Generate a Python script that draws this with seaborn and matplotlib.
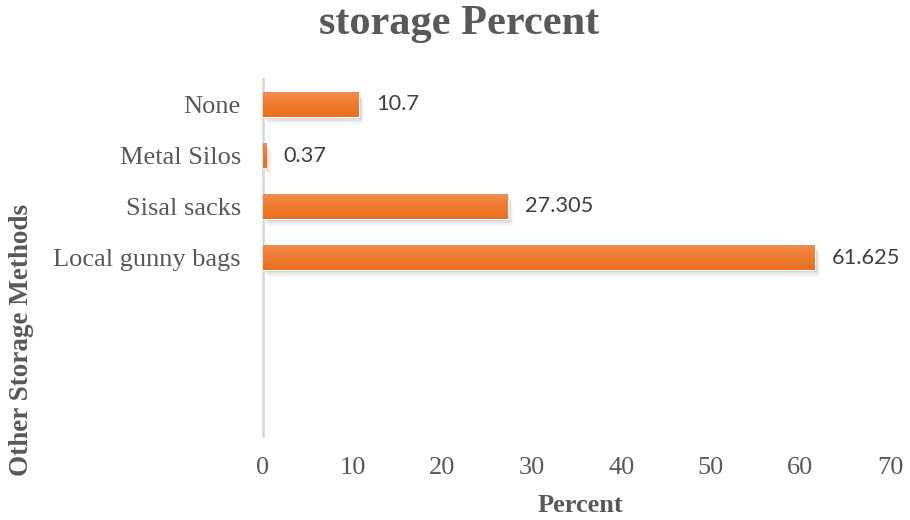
import numpy as np
import pandas as pd
import matplotlib
matplotlib.use("Agg")
import matplotlib.pyplot as plt
import seaborn as sns
from matplotlib.colors import LinearSegmentedColormap

# Data
methods = ["None", "Metal Silos", "Sisal sacks", "Local gunny bags"]
percent = [10.7, 0.37, 27.305, 61.625]
value_labels = ["10.7", "0.37", "27.305", "61.625"]
x_ticks = [0, 10, 20, 30, 40, 50, 60, 70]

df = pd.DataFrame({"method": methods, "percent": percent})

sns.set_theme(style="white")
plt.rcParams["font.family"] = ["Liberation Serif", "DejaVu Serif"]

fig = plt.figure(figsize=(9.1, 5.2), dpi=100)
ax = fig.add_axes([263 / 910, 1 - 436 / 520, (890 - 263) / 910, (436 - 79) / 520])

sns.barplot(data=df, x="percent", y="method", order=methods, color="#ED7D31",
            width=0.48, ax=ax, zorder=3)

ax.set_xlim(0, 70)
ax.set_ylim(6.5, -0.5)
ax.set_xticks(x_ticks)
ax.set_xticklabels([str(t) for t in x_ticks])
ax.tick_params(axis="x", length=0, pad=15, labelsize=19, labelcolor="#595959")
ax.tick_params(axis="y", length=0, pad=16, labelsize=19, labelcolor="#595959")
for lab in ax.get_xticklabels() + ax.get_yticklabels():
    lab.set_fontfamily(["Liberation Serif"])

for side in ["top", "right", "bottom"]:
    ax.spines[side].set_visible(False)
ax.spines["left"].set_color("#D9D9D9")
ax.spines["left"].set_linewidth(2.0)
ax.grid(False)

# Gradient fill and soft shadow on each bar
grad = LinearSegmentedColormap.from_list("bar", ["#F28C4E", "#EE7A2E", "#E8701E"])
g = np.linspace(0, 1, 64).reshape(-1, 1)
for p in list(ax.patches):
    x0, y0 = p.get_x(), p.get_y()
    w, h = p.get_width(), p.get_height()
    for k, a in enumerate([0.09, 0.06, 0.035, 0.02]):
        sh = plt.Rectangle((x0 + 0.2 + 0.15 * k, y0 + 0.05 + 0.035 * k), w, h,
                           facecolor="black", edgecolor="none", alpha=a, zorder=2)
        ax.add_patch(sh)
    im = ax.imshow(g, cmap=grad, aspect="auto", extent=(x0, x0 + w, y0 + h, y0),
                   zorder=4, interpolation="bicubic")
    im.set_clip_path(p)
ax.set_xlim(0, 70)
ax.set_ylim(6.5, -0.5)

# Value labels
for i, (v, t) in enumerate(zip(percent, value_labels)):
    ax.text(v + 1.9, i, t, va="center", ha="left", fontsize=15.7,
            color="#404040", family=["Lato", "DejaVu Sans"], zorder=5)

ax.set_xlabel("")
ax.set_ylabel("")

fig.text(459 / 910, 1 - 24 / 520, "storage Percent", ha="center", va="center",
         fontsize=30.5, fontweight="bold", color="#595959",
         family=["Liberation Serif"])
fig.text(580 / 910, 1 - 505 / 520, "Percent", ha="center", va="center",
         fontsize=19, fontweight="bold", color="#595959",
         family=["Liberation Serif"])
fig.text(22 / 910, 1 - 340 / 520, "Other Storage Methods", ha="center", va="center",
         rotation=90, fontsize=19.5, fontweight="bold", color="#595959",
         family=["Liberation Serif"])

fig.savefig("out.png", dpi=100, facecolor="white")
